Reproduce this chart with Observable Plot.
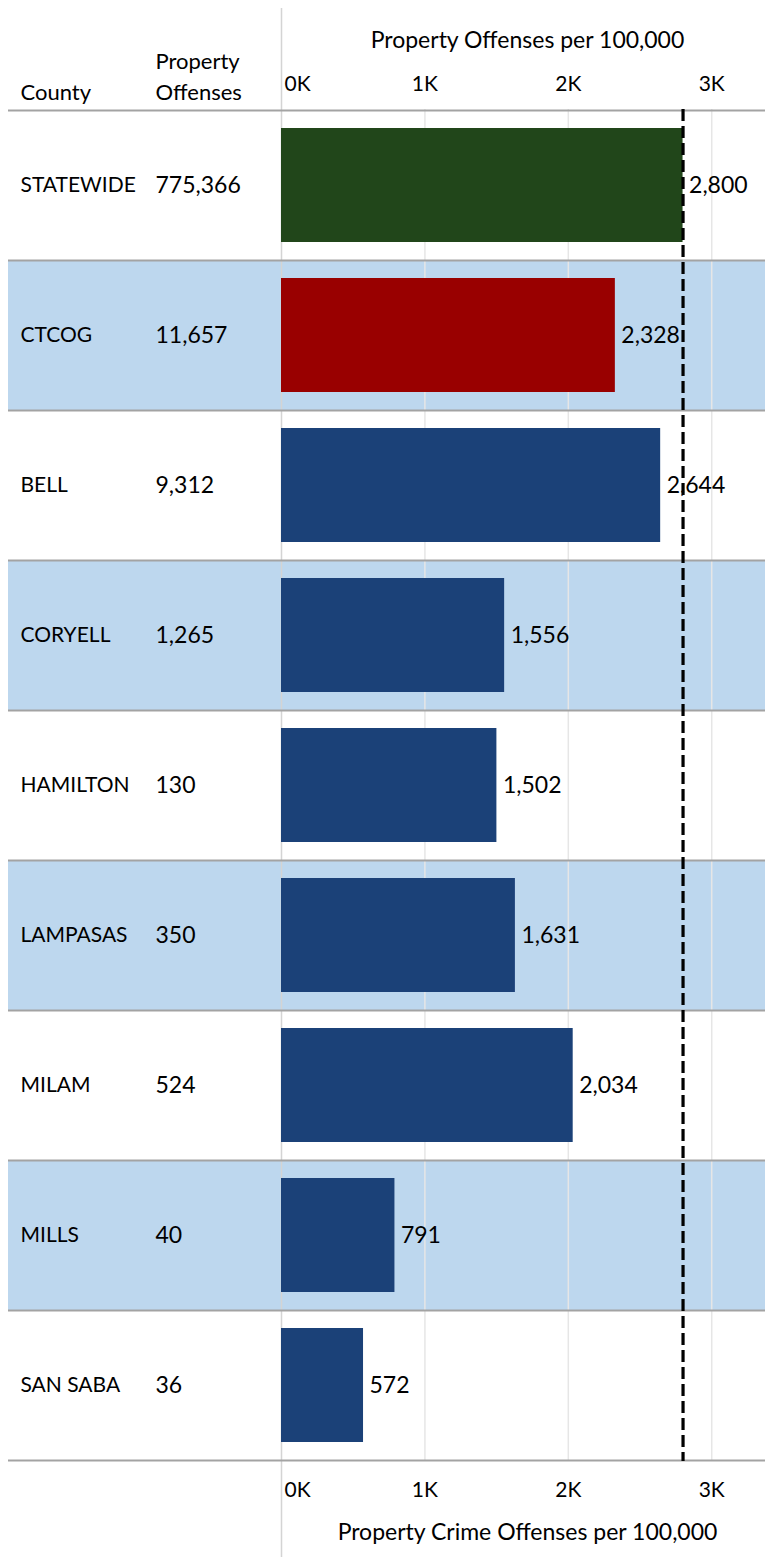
<!DOCTYPE html>
<html><head><meta charset="utf-8">
<script src="https://cdn.jsdelivr.net/npm/d3@7"></script>
<script src="https://cdn.jsdelivr.net/npm/@observablehq/plot@0.6"></script>
<style>html,body{margin:0;padding:0;background:#fff} svg{display:block}</style>
</head><body><div id="chart"></div>
<script>
const counties = ["STATEWIDE","CTCOG","BELL","CORYELL","HAMILTON","LAMPASAS","MILAM","MILLS","SAN SABA"];
const offenses = [775366,11657,9312,1265,130,350,524,40,36];
const ratePer100k = [2800,2328,2644,1556,1502,1631,2034,791,572];
const statewideRate = 2800;
const xTicks = [0,1000,2000,3000];
const xDomain = [0,3375];
const colHeaderCounty = "County";
const colHeaderOffenses = "Property\nOffenses";
const topAxisTitle = "Property Offenses per 100,000";
const bottomAxisTitle = "Property Crime Offenses per 100,000";

const rows = counties.map((c,i)=>({county:c, offenses:offenses[i], rate:ratePer100k[i], i}));
const fmt = d3.format(",");
const kfmt = d => (d/1000) + "K";
const barFill = d => d.county === "STATEWIDE" ? "#21461A" : d.county === "CTCOG" ? "#990000" : "#1B4178";
const FONT = "Lato, 'Open Sans', sans-serif";

const chart = Plot.plot({
  width: 765, height: 1557,
  marginLeft: 281, marginRight: 0, marginTop: 109, marginBottom: 96,
  style: {fontFamily: FONT, fontSize: "21px", color: "#000", background: "#fff"},
  x: {domain: xDomain, axis: null},
  y: {domain: counties, padding: 0, axis: null},
  marks: [
    Plot.barX(rows.filter(d => d.i % 2 === 1), {y: "county", x1: xDomain[0], x2: xDomain[1], fill: "#BDD7EE", insetLeft: -273}),
    Plot.ruleX(xTicks.slice(1), {stroke: "#e6e6e6", strokeWidth: 1.5}),
    Plot.ruleX([0], {stroke: "#d4d4d4", strokeWidth: 1.5, insetTop: -101, insetBottom: -96}),
    Plot.ruleY(rows, {y: "county", dy: -75.1, stroke: "#a3a3a3", strokeWidth: 2, insetLeft: -273}),
    Plot.ruleY(rows.slice(-1), {y: "county", dy: 75.1, stroke: "#a3a3a3", strokeWidth: 2, insetLeft: -273}),
    Plot.barX(rows, {y: "county", x: "rate", fill: barFill, insetTop: 18, insetBottom: 18}),
    Plot.text(rows, {y: "county", x: "rate", text: d => fmt(d.rate), textAnchor: "start", dx: 6, fontSize: 23, fill: "#000"}),
    Plot.text(rows, {y: "county", text: "county", frameAnchor: "left", textAnchor: "start", dx: -261, fontSize: 21, fill: "#000"}),
    Plot.text(rows, {y: "county", text: d => fmt(d.offenses), frameAnchor: "left", textAnchor: "start", dx: -126, fontSize: 23, fill: "#000"}),
    Plot.ruleX([statewideRate], {stroke: "#000", strokeWidth: 3.2, strokeDasharray: "12,5"}),
    // axes
    Plot.axisX(xTicks.slice(0,1), {anchor: "top", tickSize: 0, tickPadding: 19, tickFormat: kfmt, textAnchor: "start", dx: 3, label: null, fontSize: 21}),
    Plot.axisX(xTicks.slice(1), {anchor: "top", tickSize: 0, tickPadding: 19, tickFormat: kfmt, label: null, fontSize: 21}),
    Plot.axisX(xTicks.slice(0,1), {anchor: "bottom", tickSize: 0, tickPadding: 21, tickFormat: kfmt, textAnchor: "start", dx: 3, label: null, fontSize: 21}),
    Plot.axisX(xTicks.slice(1), {anchor: "bottom", tickSize: 0, tickPadding: 21, tickFormat: kfmt, label: null, fontSize: 21}),
    // titles
    Plot.text([topAxisTitle], {text: d => d, frameAnchor: "top", lineAnchor: "bottom", dy: -61.5, dx: 4, fontSize: 23, fill: "#000"}),
    Plot.text([bottomAxisTitle], {text: d => d, frameAnchor: "bottom", lineAnchor: "bottom", dy: 78, dx: 4, fontSize: 23, fill: "#000"}),
    Plot.text([colHeaderCounty], {text: d => d, frameAnchor: "top-left", lineAnchor: "bottom", textAnchor: "start", dx: -261, dy: -9.5, fontSize: 22, fill: "#000"}),
    Plot.text([colHeaderOffenses], {text: d => d, frameAnchor: "top-left", lineAnchor: "bottom", textAnchor: "start", dx: -126, dy: -9.5, fontSize: 22, lineHeight: 1.4, fill: "#000"})
  ]
});
document.getElementById("chart").append(chart);
</script>
</body></html>
